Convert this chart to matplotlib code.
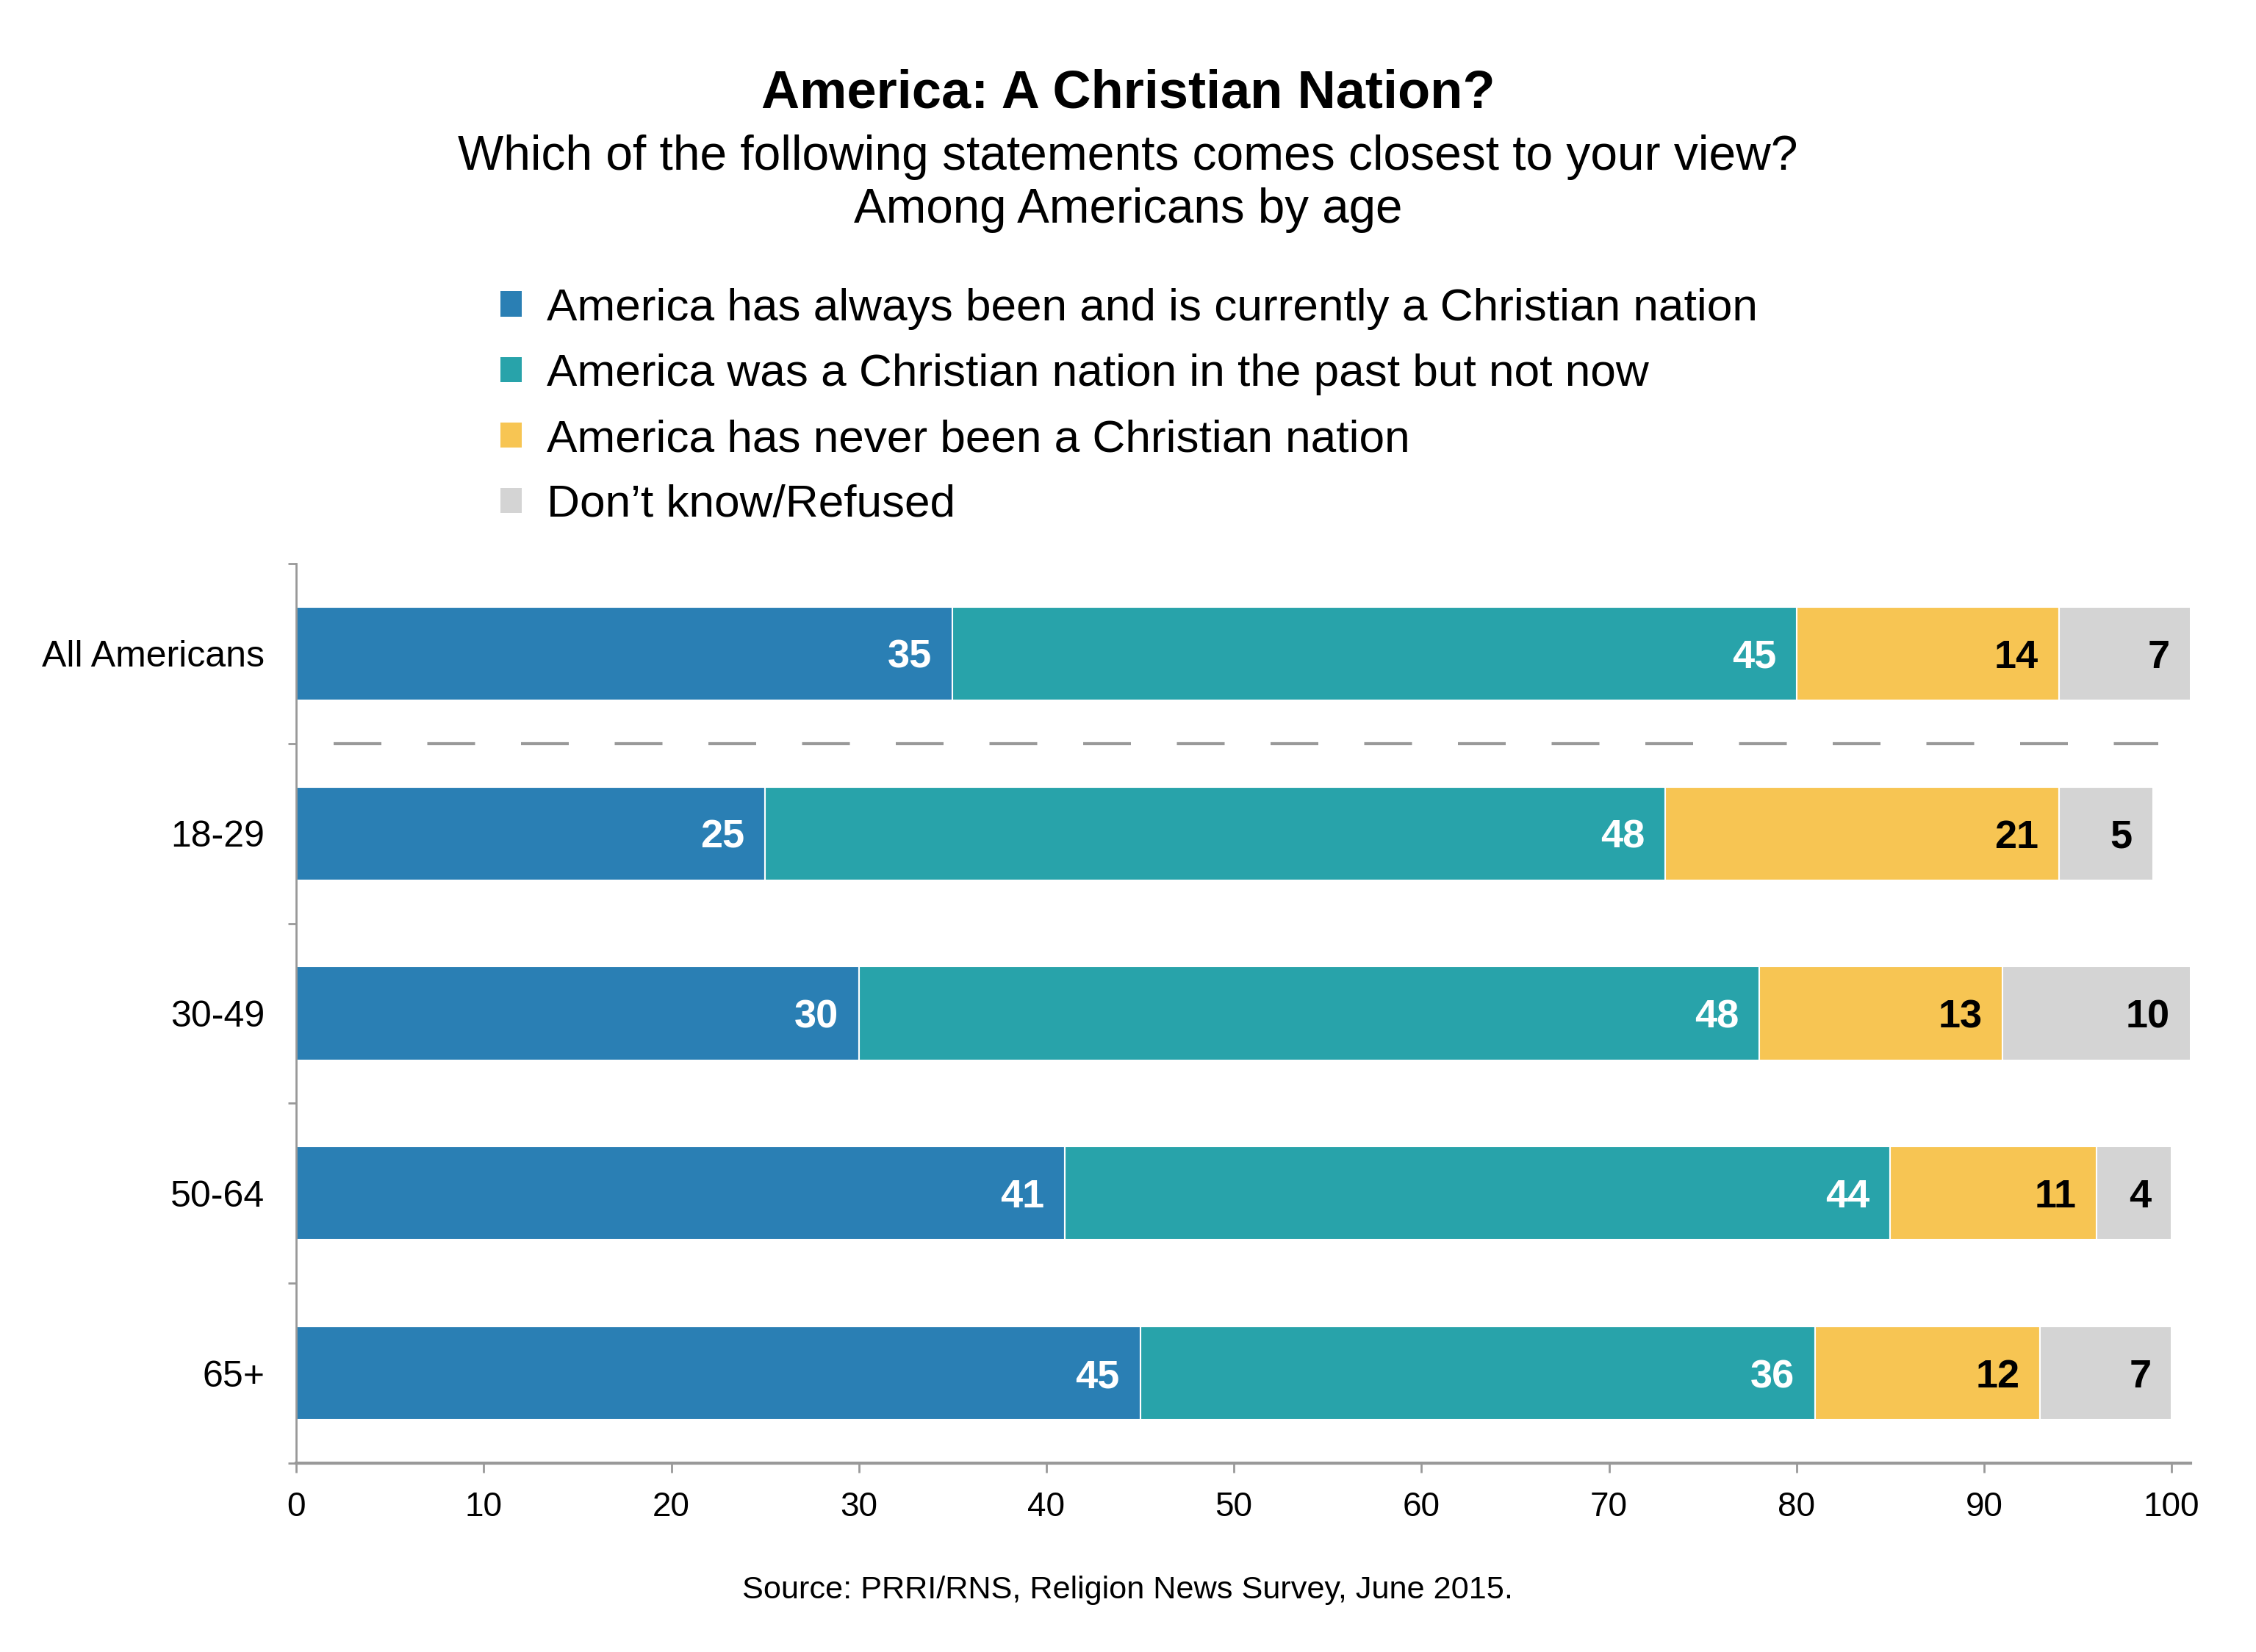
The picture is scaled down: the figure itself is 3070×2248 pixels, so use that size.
import matplotlib
matplotlib.use("Agg")
import matplotlib.pyplot as plt
from matplotlib.patches import Patch

plt.rcParams['font.family'] = ['Liberation Sans', 'DejaVu Sans']

# data
categories = ['All Americans', '18-29', '30-49', '50-64', '65+']
always_christian = [35, 25, 30, 41, 45]
past_not_now = [45, 48, 48, 44, 36]
never_christian = [14, 21, 13, 11, 12]
dont_know = [7, 5, 10, 4, 7]

series_labels = [
    'America has always been and is currently a Christian nation',
    'America was a Christian nation in the past but not now',
    'America has never been a Christian nation',
    'Don\u2019t know/Refused',
]
colors = ['#2a7fb4', '#28a3aa', '#f7c553', '#d4d4d4']
value_colors = ['white', 'white', 'black', 'black']
GRAY = '#999999'

fig = plt.figure(figsize=(30.7, 22.48), dpi=100)
ax = fig.add_axes([0.1313, 0.1143, 0.8396, 0.5445])
renderer = fig.canvas.get_renderer()


def fit_width(t, target_px):
    w = t.get_window_extent(renderer).width
    t.set_fontsize(t.get_fontsize() * target_px / w)
    return t


series = [always_christian, past_not_now, never_christian, dont_know]
ypos = list(range(len(categories)))
left = [0] * len(categories)
for vals, color, tcolor in zip(series, colors, value_colors):
    bars = ax.barh(ypos, vals, left=left, height=0.52, color=color,
                   edgecolor='white', linewidth=1.5)
    for bar, v in zip(bars, vals):
        ax.annotate(str(v), xy=(bar.get_x() + bar.get_width(), bar.get_y() + bar.get_height() / 2),
                    xytext=(-20, 0), textcoords='offset points', ha='right', va='center_baseline',
                    color=tcolor, fontsize=39, fontweight='bold')
    left = [l + v for l, v in zip(left, vals)]

# separator between total and age groups
ax.axhline(0.5, xmin=2 / 101, xmax=99.3 / 101, color=GRAY, lw=3, dashes=(15.6, 15))

ax.set_xlim(0, 101)
ax.set_ylim(4.5, -0.5)
ax.set_xticks(range(0, 101, 10))
ax.set_yticks(ypos)
ax.set_yticklabels(categories)
ax.set_yticks([i - 0.5 for i in range(len(categories) + 1)], minor=True)
ax.tick_params(axis='y', which='major', length=0, pad=31, labelsize=36)
ax.tick_params(axis='y', which='minor', length=8, width=2, color=GRAY)
ax.tick_params(axis='x', length=9, width=2, color=GRAY, pad=18, labelsize=33)
for s in ['top', 'right']:
    ax.spines[s].set_visible(False)
ax.spines['left'].set_color(GRAY)
ax.spines['left'].set_linewidth(2)
ax.spines['bottom'].set_color(GRAY)
ax.spines['bottom'].set_linewidth(3)

# titles
fit_width(fig.text(0.5, 0.9433, 'America: A Christian Nation?', ha='center', va='center',
                   fontsize=44, fontweight='bold'), 999)
fit_width(fig.text(0.5, 0.9048, 'Which of the following statements comes closest to your view?',
                   ha='center', va='center', fontsize=40), 1825)
fit_width(fig.text(0.5, 0.8728, 'Among Americans by age', ha='center', va='center', fontsize=40), 746)
fit_width(fig.text(0.5, 0.0374, 'Source: PRRI/RNS, Religion News Survey, June 2015.',
                   ha='center', va='center', fontsize=30), 1050)

# legend font size from width of longest entry
tmp = fit_width(fig.text(0, 0, series_labels[0], fontsize=40), 1645)
legend_size = tmp.get_fontsize()
tmp.remove()

handles = [Patch(facecolor=c, edgecolor='none') for c in colors]
fig.legend(handles, series_labels, loc='upper left', bbox_to_anchor=(0.2218, 0.8258),
           frameon=False, fontsize=legend_size, handlelength=0.47, handleheight=0.47,
           handletextpad=0.54, labelspacing=0.52, borderpad=0, borderaxespad=0)

fig.savefig('out.png', dpi=100)
